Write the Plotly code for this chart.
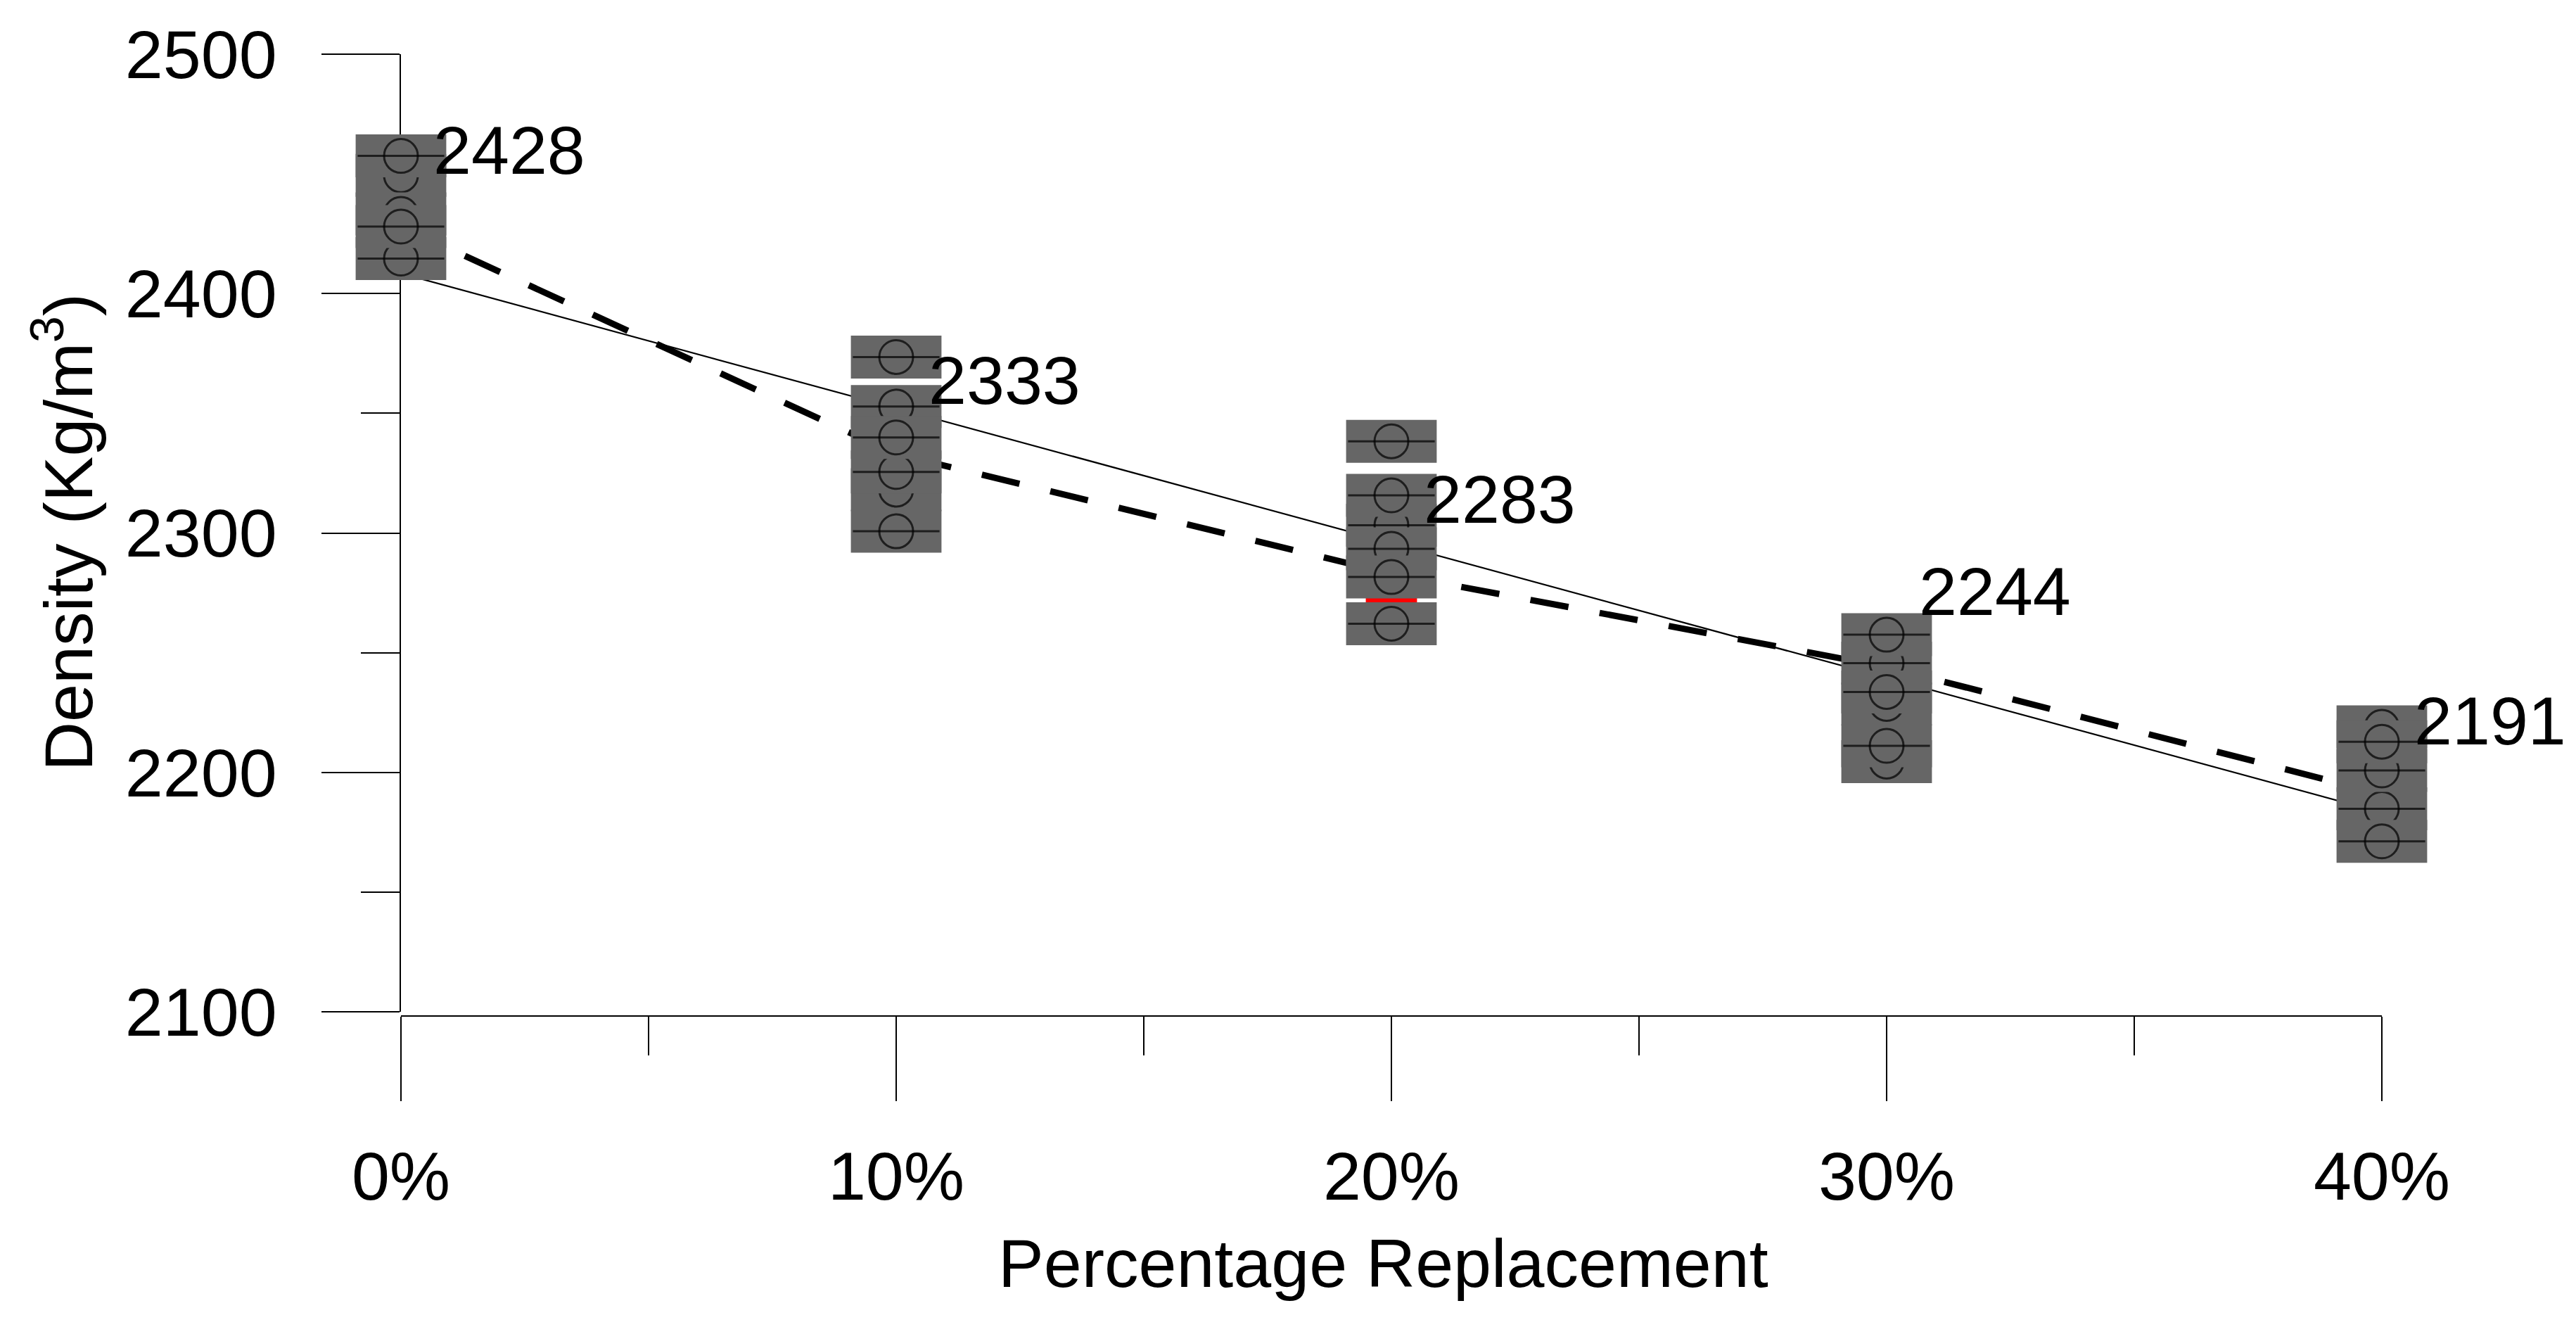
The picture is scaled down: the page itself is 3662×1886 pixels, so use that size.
import numpy as np
import plotly.graph_objects as go

# ---------------- data ----------------
replacement = [0, 10, 20, 30, 40]              # % replacement
tick_labels = ["0%", "10%", "20%", "30%", "40%"]

# replicate densities (Kg/m3), listed in drawing order
density_0 = [2449.4, 2457.5, 2433.3, 2414.6, 2428.0]
density_10 = [2373.5, 2352.8, 2318.1, 2325.5, 2339.9, 2300.7]
density_20 = [2338.3, 2303.2, 2315.7, 2293.4, 2281.6, 2262.1]
density_30 = [2245.6, 2257.5, 2228.6, 2233.6, 2204.5, 2211.1]
density_40 = [2219.0, 2184.8, 2200.8, 2212.8, 2171.2]

mean_density = [2428, 2333, 2283, 2244, 2191]   # labelled values (dashed line)

red_x = [20]
red_y = [2271.8]

y_ticks = [2100, 2200, 2300, 2400, 2500]

# --------------- styling / layout constants ---------------
OFF = 8                      # default page (body) margin of the html page
W, H = 3662 - OFF, 1886 - OFF
L, R, T, B = 570 - OFF, 276, 77 - OFF, 442
FONT = "Liberation Sans, Arial, sans-serif"
FS = 97
GRAY = "#666666"
label_y = [2460, 2363.8, 2314, 2275.5, 2221.4]   # annotation anchor heights

groups = [density_0, density_10, density_20, density_30, density_40]

fig = go.Figure()

# linear trend of the mean values
slope, intercept = np.polyfit(replacement, mean_density, 1)
xt = [replacement[0], replacement[-1]]
fig.add_trace(go.Scatter(x=xt, y=[intercept + slope * v for v in xt], mode="lines",
                         line=dict(color="black", width=2.2), cliponaxis=False,
                         showlegend=False, hoverinfo="skip"))

# dashed line through the mean values
fig.add_trace(go.Scatter(x=replacement, y=mean_density, mode="lines",
                         line=dict(color="black", width=9, dash="55px,45px"),
                         cliponaxis=False, showlegend=False, hoverinfo="skip"))

# red marker (mostly hidden)
fig.add_trace(go.Scatter(x=red_x, y=red_y, mode="markers", cliponaxis=False,
                         marker=dict(symbol="line-ew", size=52,
                                     line=dict(color="red", width=8)),
                         showlegend=False, hoverinfo="skip"))

# replicate points: grey block + open circle + horizontal bar, point by point
for xv, vals in zip(replacement, groups):
    for v in vals:
        fig.add_trace(go.Scatter(x=[xv], y=[v], mode="markers", cliponaxis=False,
                                 marker=dict(symbol="line-ew", size=92,
                                             line=dict(color=GRAY, width=61)),
                                 showlegend=False, hoverinfo="skip"))
        fig.add_trace(go.Scatter(x=[xv, xv], y=[v, v], mode="markers", cliponaxis=False,
                                 marker=dict(symbol=["line-ew", "circle-open"],
                                             size=[88, 48],
                                             color="black",
                                             line=dict(color="black", width=3)),
                                 showlegend=False, hoverinfo="skip"))

annotations = []
for xv, m, ly in zip(replacement, mean_density, label_y):
    annotations.append(dict(x=xv, y=ly, xref="x", yref="y", text=str(m),
                            showarrow=False, xanchor="left", yanchor="middle",
                            xshift=44, font=dict(family=FONT, size=FS, color="black")))

pw = W - L - R
ph = H - T - B
annotations.append(dict(x=(1966 - OFF - L) / pw, y=(H - B - (1795 - OFF)) / ph,
                        xref="paper", yref="paper",
                        text="Percentage Replacement", showarrow=False,
                        xanchor="center", yanchor="middle",
                        font=dict(family=FONT, size=FS, color="black")))
annotations.append(dict(x=(90 - OFF - L) / pw, y=(H - B - (757 - OFF)) / ph,
                        xref="paper", yref="paper",
                        text="Density (Kg/m<sup>3</sup>)", showarrow=False, textangle=-90,
                        xanchor="center", yanchor="middle",
                        font=dict(family=FONT, size=FS, color="black")))

fig.update_layout(
    width=W, height=H,
    margin=dict(l=L, r=R, t=T, b=B, pad=0),
    paper_bgcolor="white", plot_bgcolor="white",
    showlegend=False,
    font=dict(family=FONT, size=FS, color="black"),
    annotations=annotations,
    xaxis=dict(range=[replacement[0], replacement[-1]], anchor="free", position=0,
               showgrid=False, zeroline=False, showline=True, linecolor="black", linewidth=2,
               ticks="outside", ticklen=120, tickwidth=2, tickcolor="black",
               tickmode="array", tickvals=replacement, ticktext=tick_labels,
               ticklabelstandoff=24, layer="below traces",
               tickfont=dict(family=FONT, size=FS, color="black"),
               minor=dict(tickmode="array", tickvals=[5, 15, 25, 35], ticks="outside",
                          ticklen=55, tickwidth=2, tickcolor="black", showgrid=False)),
    yaxis=dict(range=[y_ticks[0], y_ticks[-1]], domain=[6 / ph, 1],
               showgrid=False, zeroline=False, showline=True, linecolor="black", linewidth=2,
               ticks="outside", ticklen=111, tickwidth=2, tickcolor="black",
               tickmode="array", tickvals=y_ticks, ticklabelstandoff=44,
               layer="below traces",
               tickfont=dict(family=FONT, size=FS, color="black"),
               minor=dict(tickmode="array", tickvals=[2150, 2250, 2350, 2450], ticks="outside",
                          ticklen=55, tickwidth=2, tickcolor="black", showgrid=False)),
)

fig.write_html("out.html")
